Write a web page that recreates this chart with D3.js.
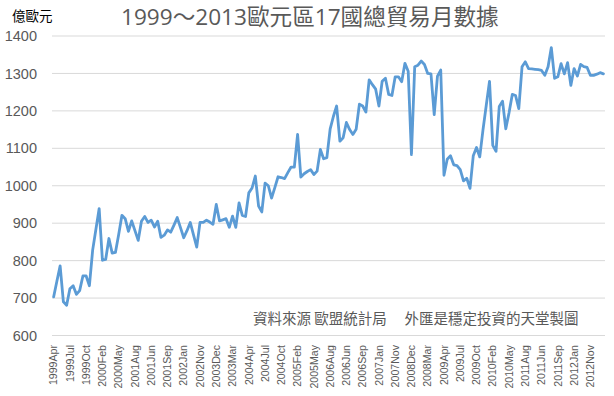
<!DOCTYPE html>
<html>
<head>
<meta charset="utf-8">
<script src="https://cdn.jsdelivr.net/npm/d3@7"></script>
<style>
  html, body { margin: 0; padding: 0; background: #ffffff; }
  svg { display: block; }
</style>
</head>
<body>
<div id="chart"></div>
<script>
// ---- data ----
const values = [
  703, 745, 786, 690, 681, 725, 733, 710, 720, 759,
  759, 733, 828, 884, 939, 801, 803, 859, 820, 822,
  870, 921, 912, 878, 906, 880, 854, 905, 918, 902,
  908, 890, 905, 862, 868, 882, 876, 895, 915, 888,
  861, 880, 902, 869, 836, 902, 902, 908, 903, 897,
  950, 906, 909, 912, 889, 919, 889, 954, 921, 918,
  981, 994, 1026, 946, 930, 1007, 1000, 967, 995, 1024,
  1022, 1019, 1035, 1050, 1050, 1137, 1023, 1032, 1038, 1043,
  1030, 1039, 1097, 1072, 1075, 1151, 1185, 1213, 1119, 1128,
  1169, 1150, 1137, 1151, 1218, 1213, 1197, 1283, 1270, 1258,
  1213, 1279, 1287, 1244, 1241, 1291, 1291, 1278, 1327, 1306,
  1083, 1318, 1322, 1333, 1324, 1300, 1299, 1190, 1293, 1309,
  1028, 1071, 1080, 1056, 1054, 1043, 1013, 1020, 993, 1080,
  1102, 1077, 1150, 1215, 1279, 1108, 1092, 1212, 1226, 1152,
  1195, 1244, 1241, 1206, 1318, 1331, 1313, 1312, 1311, 1310,
  1308, 1295, 1318, 1369, 1287, 1291, 1326, 1299, 1329, 1268,
  1313, 1293, 1324, 1318, 1316, 1295, 1295, 1298, 1302, 1299
];
const xTickLabels = [
  "1999Apr", "1999Jul", "1999Oct", "2000Feb", "2000May", "2001Aug", "2001Jun",
  "2001Sep", "2002Jan", "2002Nov", "2003Dec", "2003Mar", "2004Apr", "2004Jul",
  "2004Oct", "2005Feb", "2005May", "2006Aug", "2006Jun", "2006Sep", "2007Jan",
  "2007Nov", "2008Dec", "2008Mar", "2009Apr", "2009Jul", "2009Oct", "2010Feb",
  "2010May", "2011Aug", "2011Jun", "2011Sep", "2012Jan", "2012Nov"
];
const labelStep = 5;
const yTicks = [600, 700, 800, 900, 1000, 1100, 1200, 1300, 1400];
const titleText = "1999～2013歐元區17國總貿易月數據";
const unitText = "億歐元";
const sourceText = "資料來源 歐盟統計局　 外匯是穩定投資的天堂製圖";

// ---- layout ----
const W = 614, H = 396;
const mLeft = 52, mRight = 605, mTop = 36, mBottom = 335.5;

const svg = d3.select("#chart").append("svg")
  .attr("width", W).attr("height", H);

const x = d3.scaleBand()
  .domain(d3.range(values.length))
  .range([mLeft, mRight])
  .paddingInner(0).paddingOuter(0);
const y = d3.scaleLinear().domain([600, 1400]).range([mBottom, mTop]);

// gridlines
svg.append("g").selectAll("line").data(yTicks).join("line")
  .attr("x1", mLeft).attr("x2", mRight)
  .attr("y1", d => y(d)).attr("y2", d => y(d))
  .attr("stroke", "#d9d9d9").attr("stroke-width", 1);

// y axis labels
const yAxis = d3.axisLeft(y).tickValues(yTicks).tickFormat(d3.format("d"))
  .tickSize(0).tickPadding(0);
const gy = svg.append("g").attr("transform", `translate(37,0)`).call(yAxis);
gy.select(".domain").remove();
gy.selectAll("text")
  .attr("font-family", "'Liberation Sans', Arial, sans-serif")
  .attr("font-size", "14.5px")
  .attr("fill", "#595959");

// x axis labels
const gx = svg.append("g");
const labelIdx = xTickLabels.map((_, k) => k * labelStep);
gx.selectAll("text").data(labelIdx).join("text")
  .attr("transform", d => `translate(${x(d) + x.bandwidth() / 2},345) rotate(-90)`)
  .attr("text-anchor", "end")
  .attr("dy", "0.35em")
  .attr("font-family", "'Liberation Sans', Arial, sans-serif")
  .attr("font-size", "10.6px")
  .attr("fill", "#595959")
  .text((d, k) => xTickLabels[k]);

// line
const line = d3.line()
  .x((d, i) => x(i) + x.bandwidth() / 2)
  .y(d => y(d));
svg.append("path")
  .datum(values)
  .attr("d", line)
  .attr("fill", "none")
  .attr("stroke", "#5b9bd5")
  .attr("stroke-width", 2.8)
  .attr("stroke-linejoin", "round")
  .attr("stroke-linecap", "round");

// title
svg.append("text")
  .attr("x", 121).attr("y", 25)
  .attr("font-family", "'Open Sans', 'Noto Sans CJK TC', sans-serif")
  .attr("font-size", "22.6px")
  .attr("fill", "#595959")
  .text(titleText);

// unit label
svg.append("text")
  .attr("x", 12).attr("y", 21)
  .attr("font-family", "'Noto Sans CJK TC', sans-serif")
  .attr("font-size", "13.5px")
  .attr("fill", "#000000")
  .text(unitText);

// source note
svg.append("text")
  .attr("x", 253).attr("y", 324)
  .attr("font-family", "'Noto Sans CJK TC', sans-serif")
  .attr("font-size", "14.5px")
  .attr("fill", "#595959")
  .text(sourceText);
</script>
</body>
</html>
